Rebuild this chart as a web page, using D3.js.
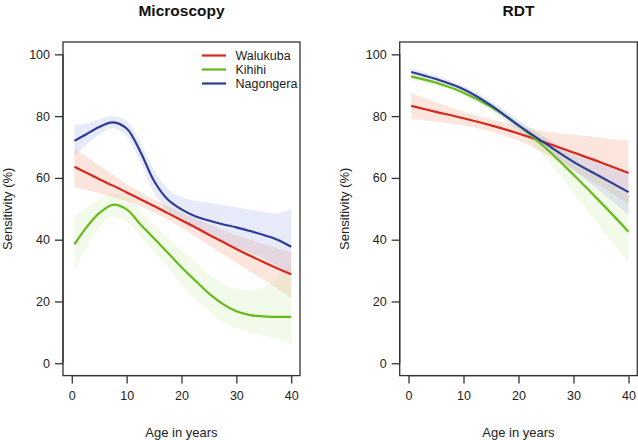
<!DOCTYPE html>
<html>
<head>
<meta charset="utf-8">
<script src="https://cdn.jsdelivr.net/npm/d3@7"></script>
<style>
  html, body { margin: 0; padding: 0; background: #fff; }
  svg { display: block; font-family: "Liberation Sans", Arial, Helvetica, sans-serif; }
</style>
</head>
<body>
<svg id="chart" width="638" height="440"></svg>
<script>
// ---------- data ----------
const panels = ["Microscopy", "RDT"];
const sites = ["Walukuba", "Kihihi", "Nagongera"];
const xTicks = [0, 10, 20, 30, 40];
const yTicks = [0, 20, 40, 60, 80, 100];

// Microscopy
const ageMic = [0.5, 2.5, 5, 7.5, 10, 12.5, 15, 17.5, 20, 22.5, 25, 27.5, 30, 32.5, 35, 37.5, 40];
const micWalukuba      = [63.6, 61.8, 59.6, 57.5, 55.3, 53.1, 50.9, 48.6, 46.3, 44.0, 41.6, 39.3, 37.0, 34.8, 32.7, 30.7, 28.8];
const micWalukubaLo    = [57.0, 56.2, 55.0, 53.8, 52.5, 50.8, 48.8, 46.5, 43.8, 41.1, 38.3, 35.4, 32.5, 29.7, 27.0, 24.1, 21.2];
const micWalukubaHi    = [69.6, 67.0, 64.0, 61.0, 58.0, 55.5, 53.0, 50.8, 48.8, 46.9, 45.0, 43.2, 41.5, 40.0, 38.5, 37.2, 36.0];
const micKihihi        = [38.5, 43.6, 48.6, 51.3, 49.8, 45.0, 40.4, 35.8, 31.1, 26.8, 22.6, 19.2, 16.8, 15.6, 15.2, 15.0, 15.0];
const micKihihiLo      = [30.0, 37.0, 44.0, 47.5, 45.8, 41.0, 36.2, 31.2, 25.6, 21.0, 17.0, 13.5, 11.5, 10.0, 9.0, 8.0, 6.5];
const micKihihiHi      = [47.5, 50.0, 53.0, 55.0, 53.8, 49.2, 44.8, 40.6, 36.6, 32.7, 28.8, 25.8, 24.0, 23.5, 24.5, 27.5, 32.0];
const micNagongera     = [72.0, 74.0, 76.5, 78.0, 76.0, 68.5, 59.0, 53.0, 49.8, 47.6, 46.2, 45.0, 44.0, 42.8, 41.5, 40.0, 37.7];
const micNagongeraLo   = [67.0, 70.5, 74.0, 76.0, 73.4, 65.2, 55.2, 49.4, 45.8, 43.1, 41.0, 39.2, 37.5, 35.8, 34.0, 31.5, 29.0];
const micNagongeraHi   = [77.0, 77.5, 79.0, 80.0, 78.4, 71.5, 62.5, 56.5, 53.7, 52.6, 52.0, 51.2, 50.5, 49.7, 49.0, 48.5, 50.0];

// RDT
const ageRdt = [0.5, 5, 10, 15, 20, 25, 30, 35, 40];
const rdtWalukuba      = [83.3, 81.4, 79.3, 77.0, 74.4, 71.4, 68.2, 65.0, 61.6];
const rdtWalukubaLo    = [79.0, 78.2, 77.0, 75.0, 72.0, 67.6, 62.6, 57.2, 51.5];
const rdtWalukubaHi    = [87.5, 84.5, 81.5, 79.0, 76.8, 75.0, 74.0, 73.0, 72.0];
const rdtKihihi        = [92.8, 90.8, 87.6, 83.0, 77.0, 69.6, 61.0, 52.0, 42.6];
const rdtKihihiLo      = [91.5, 89.6, 86.3, 81.5, 75.0, 66.2, 55.2, 43.8, 32.5];
const rdtKihihiHi      = [94.0, 92.0, 88.8, 84.5, 78.8, 72.8, 66.4, 60.2, 54.0];
const rdtNagongera     = [94.3, 92.0, 88.7, 83.5, 77.0, 71.0, 65.2, 60.3, 55.4];
const rdtNagongeraLo   = [93.0, 90.9, 87.6, 82.2, 75.5, 69.0, 62.5, 55.5, 48.0];
const rdtNagongeraHi   = [95.5, 93.1, 89.8, 84.8, 78.5, 73.0, 68.0, 64.5, 61.5];

// ---------- build series ----------
const colors = { Walukuba: "#d8281c", Kihihi: "#66bb1a", Nagongera: "#2c3c96" };
const bandColors = { Walukuba: "#f6a98c", Kihihi: "#c5e8a0", Nagongera: "#aab4ea" };
const bandOpacity = { Walukuba: 0.3, Kihihi: 0.22, Nagongera: 0.28 };

function mk(age, v, lo, hi) { return age.map((a, i) => ({ x: a, y: v[i], lo: lo[i], hi: hi[i] })); }
const panelData = {
  Microscopy: {
    Walukuba: mk(ageMic, micWalukuba, micWalukubaLo, micWalukubaHi),
    Kihihi: mk(ageMic, micKihihi, micKihihiLo, micKihihiHi),
    Nagongera: mk(ageMic, micNagongera, micNagongeraLo, micNagongeraHi)
  },
  RDT: {
    Walukuba: mk(ageRdt, rdtWalukuba, rdtWalukubaLo, rdtWalukubaHi),
    Kihihi: mk(ageRdt, rdtKihihi, rdtKihihiLo, rdtKihihiHi),
    Nagongera: mk(ageRdt, rdtNagongera, rdtNagongeraLo, rdtNagongeraHi)
  }
};

// ---------- layout ----------
const svg = d3.select("#chart");
const boxes = [
  { left: 63, right: 300, top: 42, bottom: 375.6, ylabX: 12 },
  { left: 399.7, right: 637.3, top: 42, bottom: 375.6, ylabX: 349 }
];

panels.forEach((p, pi) => {
  const b = boxes[pi];
  const x = d3.scaleLinear().domain([-1.6, 41.6]).range([b.left, b.right]);
  const y = d3.scaleLinear().domain([-4, 104]).range([b.bottom, b.top]);
  const g = svg.append("g");

  const curve = d3.curveCatmullRom.alpha(0.5);
  const area = d3.area().x(d => x(d.x)).y0(d => y(d.lo)).y1(d => y(d.hi)).curve(curve);
  const line = d3.line().x(d => x(d.x)).y(d => y(d.y)).curve(curve);

  // bands
  sites.forEach(s => {
    g.append("path").datum(panelData[p][s])
      .attr("d", area)
      .attr("fill", bandColors[s])
      .attr("fill-opacity", bandOpacity[s])
      .attr("stroke", "none");
  });
  // lines
  sites.forEach(s => {
    g.append("path").datum(panelData[p][s])
      .attr("d", line)
      .attr("fill", "none")
      .attr("stroke", colors[s])
      .attr("stroke-width", 2.2);
  });

  // box
  g.append("rect")
    .attr("x", b.left).attr("y", b.top)
    .attr("width", b.right - b.left).attr("height", b.bottom - b.top)
    .attr("fill", "none").attr("stroke", "#333").attr("stroke-width", 1.3);

  // axes
  const xAxis = d3.axisBottom(x).tickValues(xTicks).tickSize(8).tickPadding(8);
  const gx = g.append("g").attr("transform", `translate(0,${b.bottom})`).call(xAxis);
  gx.select(".domain").attr("d", `M${x(0)},0H${x(40)}`).attr("stroke", "#333").attr("stroke-width", 1.3);
  gx.selectAll(".tick line").attr("stroke", "#333").attr("stroke-width", 1.3);
  gx.selectAll(".tick text").attr("font-size", 12.5).attr("fill", "#222")
    .style("font-family", "'Liberation Sans', Arial, sans-serif");

  const yAxis = d3.axisLeft(y).tickValues(yTicks).tickSize(8).tickPadding(5);
  const gy = g.append("g").attr("transform", `translate(${b.left},0)`).call(yAxis);
  gy.select(".domain").attr("d", `M0,${y(0)}V${y(100)}`).attr("stroke", "#333").attr("stroke-width", 1.3);
  gy.selectAll(".tick line").attr("stroke", "#333").attr("stroke-width", 1.3);
  gy.selectAll(".tick text").attr("font-size", 12.5).attr("fill", "#222")
    .style("font-family", "'Liberation Sans', Arial, sans-serif");

  // titles
  g.append("text").attr("x", (b.left + b.right) / 2).attr("y", 16)
    .attr("text-anchor", "middle").attr("font-size", 15.5).attr("font-weight", "bold")
    .attr("fill", "#111").text(p);
  g.append("text").attr("x", (b.left + b.right) / 2).attr("y", 437)
    .attr("text-anchor", "middle").attr("font-size", 13).attr("fill", "#222")
    .text("Age in years");
  g.append("text")
    .attr("transform", `translate(${b.ylabX},${(b.top + b.bottom) / 2}) rotate(-90)`)
    .attr("text-anchor", "middle").attr("font-size", 13).attr("fill", "#222")
    .text("Sensitivity (%)");

  // legend (first panel only)
  if (pi === 0) {
    const lg = g.append("g");
    sites.forEach((s, i) => {
      const yy = 55.5 + i * 14;
      lg.append("line").attr("x1", 202).attr("x2", 226).attr("y1", yy).attr("y2", yy)
        .attr("stroke", colors[s]).attr("stroke-width", 2.2);
      lg.append("text").attr("x", 235.5).attr("y", yy + 4.2)
        .attr("font-size", 12.5).attr("fill", "#222").text(s);
    });
  }
});
</script>
</body>
</html>
